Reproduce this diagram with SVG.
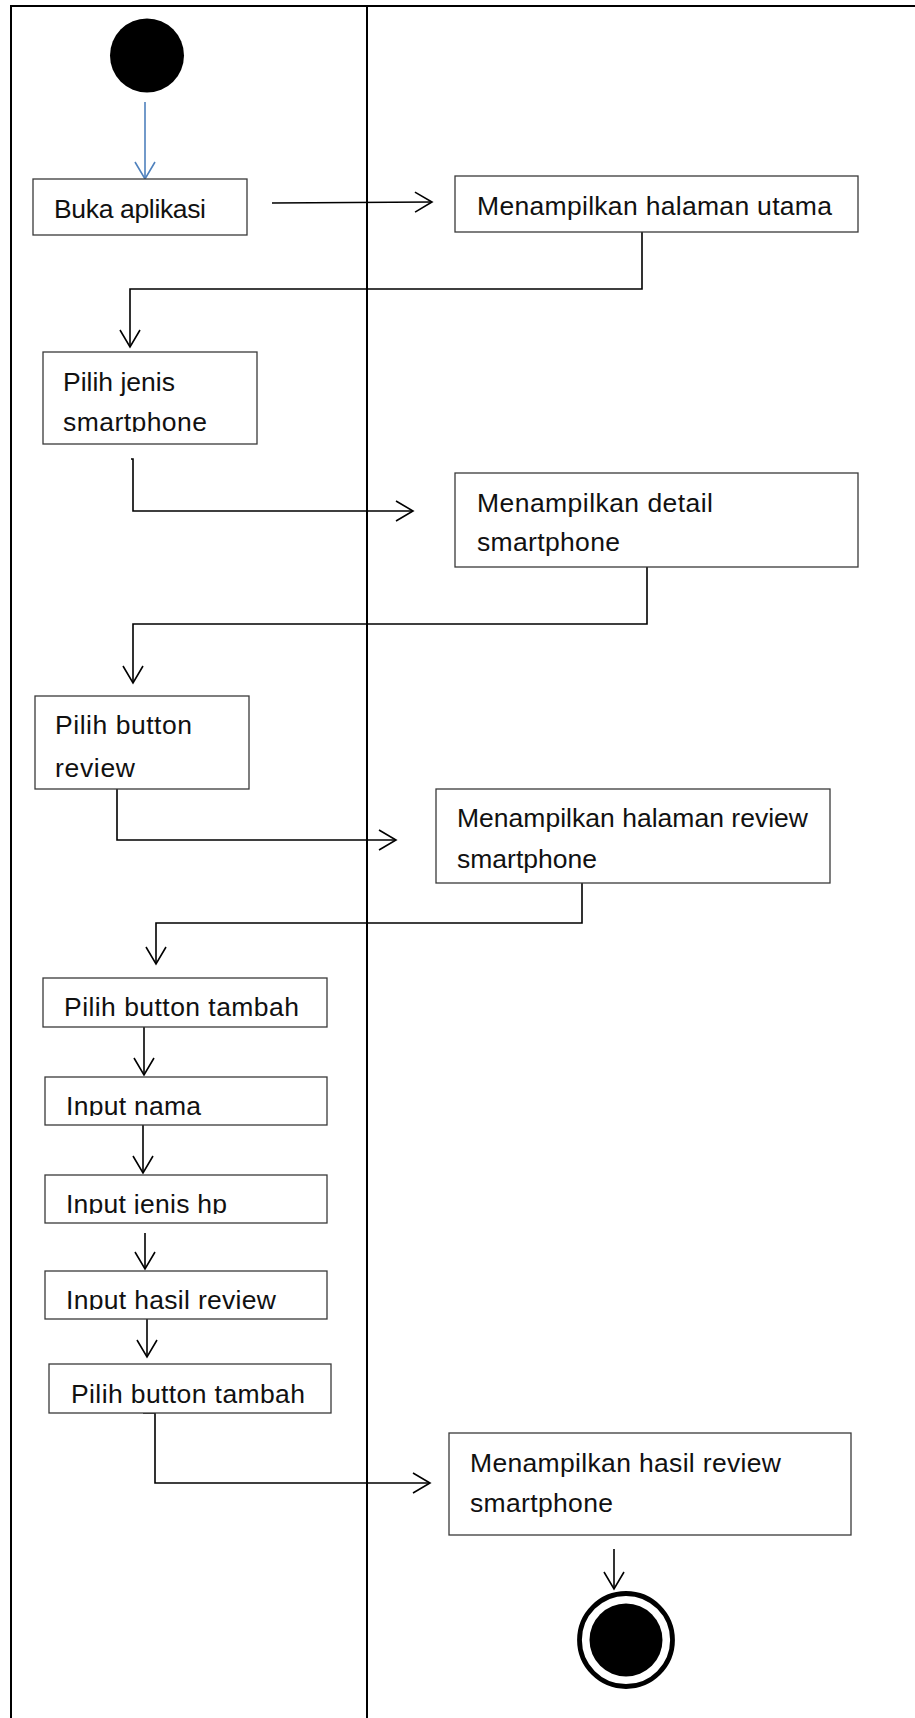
<svg xmlns="http://www.w3.org/2000/svg" width="915" height="1718" viewBox="0 0 915 1718">
  <style>
    .lane { stroke: #000; stroke-width: 2; fill: none; }
    .box { fill: #fff; stroke: #3a3a3a; stroke-width: 1.3; }
    .lbl { font-family: "Liberation Sans", Arial, sans-serif; font-size: 26.5px; fill: #111; }
    .flow { fill: none; stroke: #000; stroke-width: 1.6; marker-end: url(#arrow); }
    .flow-blue { fill: none; stroke: #4f81bd; stroke-width: 1.6; marker-end: url(#arrowBlue); }
  </style>
  <defs>
    <marker id="arrow" markerUnits="userSpaceOnUse" markerWidth="22" markerHeight="24" refX="19" refY="11" orient="auto">
      <path d="M2,1 L19,11 L2,21" fill="none" stroke="#000" stroke-width="1.6"/>
    </marker>
    <marker id="arrowBlue" markerUnits="userSpaceOnUse" markerWidth="22" markerHeight="24" refX="19" refY="11" orient="auto">
      <path d="M2,1 L19,11 L2,21" fill="none" stroke="#4f81bd" stroke-width="1.6"/>
    </marker>
    <!-- text boxes whose lower line is cut at the baseline -->
    <clipPath id="clipJenis"><rect x="40" y="350" width="220" height="82"/></clipPath>
    <clipPath id="clipNama"><rect x="40" y="1075" width="290" height="41"/></clipPath>
    <clipPath id="clipJenisHp"><rect x="40" y="1173" width="290" height="41"/></clipPath>
    <clipPath id="clipHasil"><rect x="40" y="1269" width="290" height="41"/></clipPath>
  </defs>

  <rect x="0" y="0" width="915" height="1718" fill="#fff"/>

  <!-- swimlanes -->
  <g id="lanes">
    <path class="lane" d="M11,1718 L11,6 L915,6"/>
    <path class="lane" d="M367,6 L367,1718"/>
  </g>

  <!-- connectors -->
  <g id="connectors">
    <path class="flow-blue" d="M145,102 L145,179"/>
    <path class="flow" d="M272,203 L432,202"/>
    <path class="flow" d="M642,232 L642,289 L130,289 L130,347"/>
    <path class="flow" d="M131,459 L133,459 L133,511 L413,511"/>
    <path class="flow" d="M647,567 L647,624 L133,624 L133,683"/>
    <path class="flow" d="M117,789 L117,840 L396,840"/>
    <path class="flow" d="M582,883 L582,923 L156,923 L156,964"/>
    <path class="flow" d="M144,1027 L144,1075"/>
    <path class="flow" d="M143,1125 L143,1173"/>
    <path class="flow" d="M145,1233 L145,1269"/>
    <path class="flow" d="M147,1319 L147,1357"/>
    <path class="flow" d="M143,1413 L155,1413 L155,1483 L430,1483"/>
    <path class="flow" d="M614,1549 L614,1589"/>
  </g>

  <g id="start">
    <circle cx="147" cy="55.5" r="37" fill="#000"/>
  </g>

  <g id="buka-aplikasi">
    <rect class="box" x="33" y="179" width="214" height="56"/>
    <text class="lbl" x="54" y="218" textLength="152" lengthAdjust="spacing">Buka aplikasi</text>
  </g>

  <g id="halaman-utama">
    <rect class="box" x="455" y="176" width="403" height="56"/>
    <text class="lbl" x="477" y="215" textLength="355" lengthAdjust="spacing">Menampilkan halaman utama</text>
  </g>

  <g id="pilih-jenis">
    <rect class="box" x="43" y="352" width="214" height="92"/>
    <g clip-path="url(#clipJenis)">
      <text class="lbl" x="63" y="391" textLength="112" lengthAdjust="spacing">Pilih jenis</text>
      <text class="lbl" x="63" y="431" textLength="144" lengthAdjust="spacing">smartphone</text>
    </g>
  </g>

  <g id="detail-smartphone">
    <rect class="box" x="455" y="473" width="403" height="94"/>
    <text class="lbl" x="477" y="512" textLength="236" lengthAdjust="spacing">Menampilkan detail</text>
    <text class="lbl" x="477" y="551" textLength="143" lengthAdjust="spacing">smartphone</text>
  </g>

  <g id="pilih-review">
    <rect class="box" x="35" y="696" width="214" height="93"/>
    <text class="lbl" x="55" y="734" textLength="137" lengthAdjust="spacing">Pilih button</text>
    <text class="lbl" x="55" y="777" textLength="80" lengthAdjust="spacing">review</text>
  </g>

  <g id="halaman-review">
    <rect class="box" x="436" y="789" width="394" height="94"/>
    <text class="lbl" x="457" y="827" textLength="351" lengthAdjust="spacing">Menampilkan halaman review</text>
    <text class="lbl" x="457" y="868" textLength="140" lengthAdjust="spacing">smartphone</text>
  </g>

  <g id="pilih-tambah-1">
    <rect class="box" x="43" y="978" width="284" height="49"/>
    <text class="lbl" x="64" y="1016" textLength="235" lengthAdjust="spacing">Pilih button tambah</text>
  </g>

  <g id="input-nama">
    <rect class="box" x="45" y="1077" width="282" height="48"/>
    <text class="lbl" x="66" y="1115" textLength="135" lengthAdjust="spacing" clip-path="url(#clipNama)">Input nama</text>
  </g>

  <g id="input-jenis-hp">
    <rect class="box" x="45" y="1175" width="282" height="48"/>
    <text class="lbl" x="66" y="1213" textLength="161" lengthAdjust="spacing" clip-path="url(#clipJenisHp)">Input jenis hp</text>
  </g>

  <g id="input-hasil">
    <rect class="box" x="45" y="1271" width="282" height="48"/>
    <text class="lbl" x="66" y="1309" textLength="210" lengthAdjust="spacing" clip-path="url(#clipHasil)">Input hasil review</text>
  </g>

  <g id="pilih-tambah-2">
    <rect class="box" x="49" y="1364" width="282" height="49"/>
    <text class="lbl" x="71" y="1403" textLength="234" lengthAdjust="spacing">Pilih button tambah</text>
  </g>

  <g id="hasil-review">
    <rect class="box" x="449" y="1433" width="402" height="102"/>
    <text class="lbl" x="470" y="1472" textLength="311" lengthAdjust="spacing">Menampilkan hasil review</text>
    <text class="lbl" x="470" y="1512" textLength="143" lengthAdjust="spacing">smartphone</text>
  </g>

  <g id="end">
    <circle cx="626" cy="1640" r="46.5" fill="#fff" stroke="#000" stroke-width="4.8"/>
    <circle cx="626" cy="1640" r="36.5" fill="#000"/>
  </g>
</svg>
